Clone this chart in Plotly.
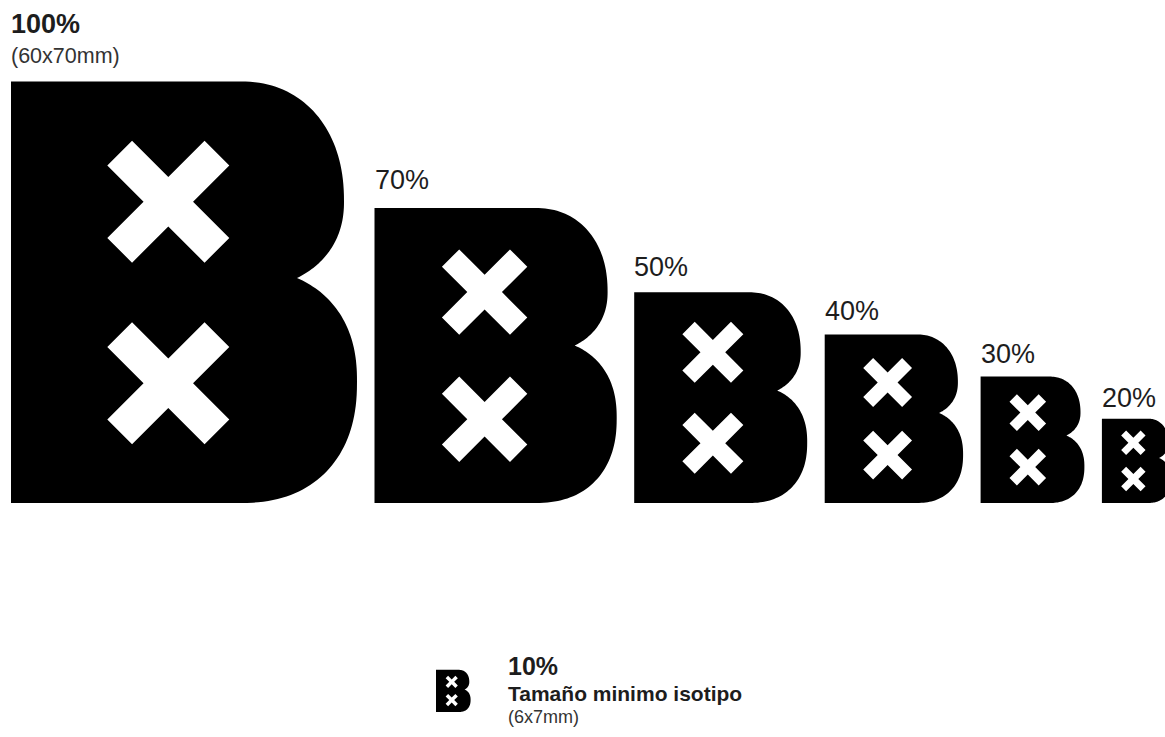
import math
import plotly.graph_objects as go

# ---- data ----
scales = [100, 70, 50, 40, 30, 20]
labels = ["100%", "70%", "50%", "40%", "30%", "20%"]
subtitles = ["(60x70mm)", "", "", "", "", ""]
label_bold = [True, False, False, False, False, False]

min_scale = 10
min_label = "10%"
min_title = "Tamaño minimo isotipo"
min_subtitle = "(6x7mm)"

# ---- geometry of the mark at 100% (pixels in data units) ----
H100 = 421.5
BASE_Y = 503.0
START_X = 11.0
GAP = 17.5
MARK_W = 346.0


def superellipse(cx, cy, a, b, n, th0, th1, steps=40):
    pts = []
    for i in range(steps + 1):
        th = th0 + (th1 - th0) * i / steps
        c, s = math.cos(th), math.sin(th)
        x = cx + a * math.copysign(abs(c) ** (2 / n), c)
        y = cy + b * math.copysign(abs(s) ** (2 / n), s)
        pts.append((x, y))
    return pts


def outline_rel():
    pts = [(0, 0), (229, 0)]
    # top lobe
    n1, cx, cy1, a1 = 2.2, 229.0, 120.0, 104.0
    nx, ny = 286.0, 196.5
    fx = (nx - cx) / a1
    b1d = (ny - cy1) / (1 - fx ** n1) ** (1 / n1)
    thn = math.acos(fx ** (n1 / 2))
    pts += superellipse(cx, cy1, a1, 120.0, n1, -math.pi / 2, 0)
    pts += superellipse(cx, cy1, a1, b1d, n1, 0, thn)
    # bottom lobe
    n2, cy2, a2 = 2.3, 300.0, 117.0
    fx2 = (nx - cx) / a2
    b2u = (cy2 - ny) / (1 - fx2 ** n2) ** (1 / n2)
    thn2 = math.acos(fx2 ** (n2 / 2))
    pts += superellipse(cx, cy2, a2, b2u, n2, -thn2, 0)
    pts += superellipse(cx, cy2, a2, 121.5, n2, 0, math.pi / 2)
    pts += [(0, 421.5)]
    return pts


OUTLINE = outline_rel()


def to_path(points):
    return "M " + " L ".join(f"{x:.2f},{y:.2f}" for x, y in points) + " Z"


def cross_points(cx, cy, e, t):
    w = t / 2
    L = e * math.sqrt(2) - w
    base = [(w, w), (w, L), (-w, L), (-w, w), (-L, w), (-L, -w), (-w, -w),
            (-w, -L), (w, -L), (w, -w), (L, -w), (L, w)]
    r = math.sqrt(0.5)
    return [(cx + (x - y) * r, cy + (x + y) * r) for x, y in base]


def mark_shapes(left, bottom, scale):
    k = scale / 100.0
    top = bottom - H100 * k
    pts = [(left + x * k, top + y * k) for x, y in OUTLINE]
    shapes = [dict(type="path", path=to_path(pts), xref="x", yref="y",
                   fillcolor="black", line=dict(width=0), layer="above")]
    for dy in (120.2, 301.8):
        cp = cross_points(left + 157.3 * k, top + dy * k, 61 * k, 35 * k)
        shapes.append(dict(type="path", path=to_path(cp), xref="x", yref="y",
                           fillcolor="white", line=dict(width=0), layer="above"))
    return shapes, top


FONT = "Liberation Sans, Arial, sans-serif"
TXT = "#1d1d1d"


def ann(x, y, text, size, color=TXT):
    return dict(x=x, y=y, text=text, showarrow=False, xanchor="left",
                yanchor="middle", borderpad=0, borderwidth=0,
                font=dict(family=FONT, size=size, color=color))


shapes = []
annotations = []
left = START_X
for s, lab, sub, bold in zip(scales, labels, subtitles, label_bold):
    shp, top = mark_shapes(left, BASE_Y, s)
    shapes += shp
    if sub:
        annotations.append(ann(left, top - 25.5, sub, 21.5, "#333333"))
        ly = top - 57.5
    else:
        ly = top - (18 + 0.14 * s)
    txt = f"<b>{lab}</b>" if bold else lab
    annotations.append(ann(left, ly, txt, 27))
    left += MARK_W * s / 100.0 + GAP

# minimum size block
min_left, min_bottom = 436.0, 712.0
shp, mtop = mark_shapes(min_left, min_bottom, min_scale)
shapes += shp
tx = min_left + 72
annotations.append(ann(tx, mtop - 3.5, f"<b>{min_label}</b>", 25))
annotations.append(ann(tx, mtop + 23.5, f"<b>{min_title}</b>", 21))
annotations.append(ann(tx, mtop + 47, min_subtitle, 18, "#333333"))

fig = go.Figure()
fig.add_trace(go.Scatter(x=[0, 1165], y=[0, 737], mode="markers",
                         marker=dict(opacity=0), hoverinfo="skip", showlegend=False))
fig.update_layout(
    width=1165, height=737,
    margin=dict(l=0, r=0, t=0, b=0),
    paper_bgcolor="white", plot_bgcolor="white",
    shapes=shapes, annotations=annotations,
    showlegend=False,
)
fig.update_xaxes(range=[0, 1165], visible=False, fixedrange=True)
fig.update_yaxes(range=[737, 0], visible=False, fixedrange=True)
fig.write_html(
    "out.html",
    config={"displayModeBar": False, "staticPlot": True},
    post_script="document.body.style.margin='0';document.body.style.overflow='hidden';",
)
